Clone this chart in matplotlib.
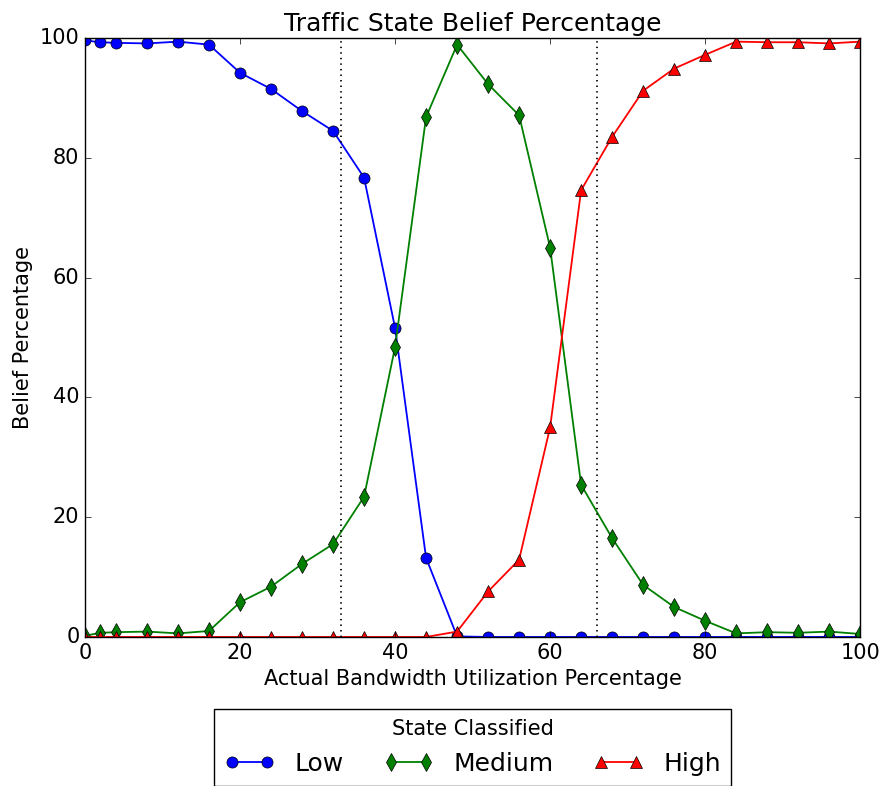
import numpy as np
import matplotlib
matplotlib.use("Agg")
import matplotlib.pyplot as plt

plt.style.use('classic')
plt.rcParams['font.size'] = 15

utilization = [0, 2, 4, 8, 12, 16, 20, 24, 28, 32, 36, 40, 44, 48, 52, 56,
               60, 64, 68, 72, 76, 80, 84, 88, 92, 96, 100]
low = [99.6, 99.3, 99.2, 99.1, 99.4, 98.9, 94.2, 91.5, 87.8, 84.5, 76.7, 51.6,
       13.2, 0.1, 0, 0, 0, 0, 0, 0, 0, 0, 0, 0, 0, 0, 0]
medium = [0.2, 0.7, 0.8, 0.9, 0.6, 1.0, 5.8, 8.4, 12.2, 15.5, 23.4, 48.4,
          86.8, 98.9, 92.3, 87.1, 65.0, 25.4, 16.5, 8.7, 5.0, 2.7, 0.6, 0.8,
          0.7, 0.9, 0.5]
high = [0, 0, 0, 0, 0, 0, 0, 0, 0, 0, 0, 0, 0, 0.9, 7.6, 12.9, 35.0, 74.6,
        83.5, 91.2, 94.9, 97.2, 99.4, 99.3, 99.3, 99.1, 99.4]
thresholds = [33, 66]

fig = plt.figure(figsize=(8.85, 7.86), dpi=100)
ax = fig.add_axes([0.096, 0.1896, 0.876, 0.762])

ax.plot(utilization, low, 'b-o', markersize=8, linewidth=1.3, label='Low')
ax.plot(utilization, medium, 'g-d', markersize=9, linewidth=1.3, label='Medium')
ax.plot(utilization, high, 'r-^', markersize=8, linewidth=1.3, label='High')
for t in thresholds:
    ax.axvline(t, color='k', linestyle=':', linewidth=1.3)

ax.set_xlim(0, 100)
ax.set_ylim(0, 100)
ax.set_title('Traffic State Belief Percentage')
ax.set_xlabel('Actual Bandwidth Utilization Percentage')
ax.set_ylabel('Belief Percentage')

leg = ax.legend(loc='upper center', bbox_to_anchor=(0.5, -0.1), ncol=3,
                title='State Classified', fontsize=18, numpoints=2,
                columnspacing=1.6, borderpad=0.4)
leg.get_title().set_fontsize(15)

fig.savefig('out.png', dpi=100)
